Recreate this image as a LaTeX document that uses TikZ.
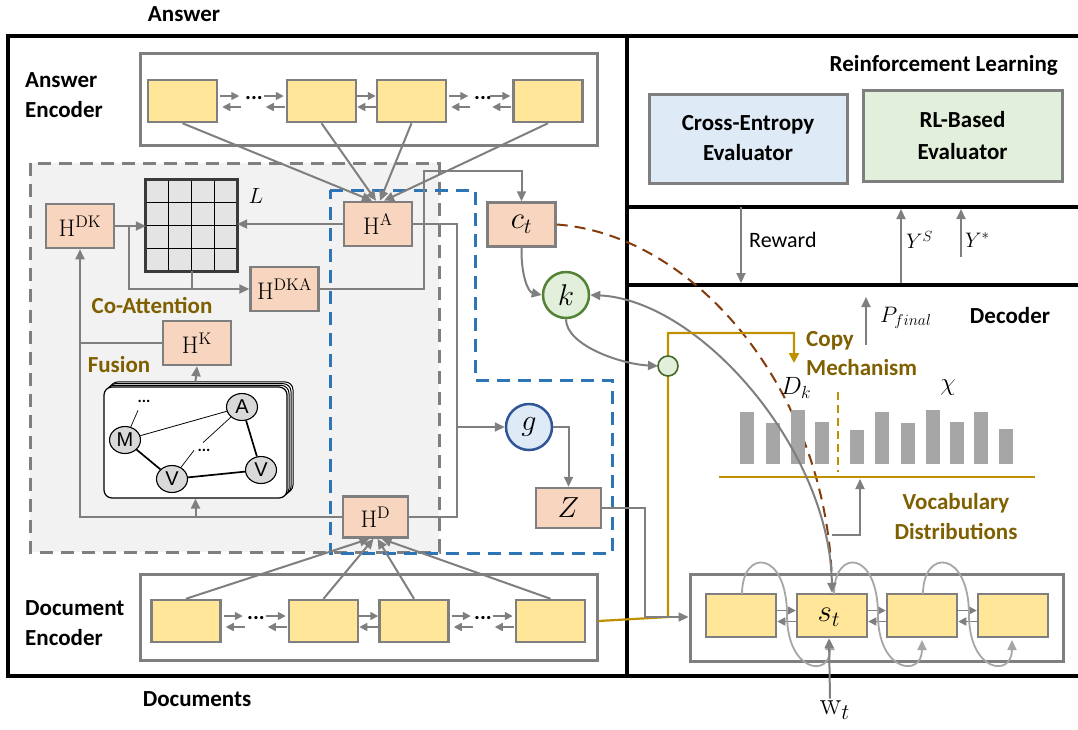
\RequirePackage{fix-cm}
\documentclass[tikz,border=0pt]{standalone}
\usepackage{graphicx}
\usepackage[no-math]{fontspec}
\setmainfont{Carlito}
\newfontfamily\arialf{Liberation Sans}
\usetikzlibrary{arrows.meta,calc,shapes.geometric}
\definecolor{gcol}{HTML}{7F7F7F}
\definecolor{lgcol}{HTML}{A6A6A6}
\definecolor{cellc}{HTML}{FFE699}
\definecolor{salm}{HTML}{F7D5BE}
\definecolor{regfill}{HTML}{F2F2F2}
\definecolor{mfill}{HTML}{E4E4E4}
\definecolor{mdark}{HTML}{3A3A3A}
\definecolor{blueC}{HTML}{2E75B6}
\definecolor{goldC}{HTML}{BF9000}
\definecolor{oliveC}{HTML}{7F6000}
\definecolor{brownC}{HTML}{843C0C}
\definecolor{kfill}{HTML}{E2EFDA}
\definecolor{kdraw}{HTML}{548235}
\definecolor{gfill}{HTML}{DEEBF7}
\definecolor{gdraw}{HTML}{2F5597}
\definecolor{gnfill}{HTML}{D9D9D9}
\newcommand\mth[2]{\scalebox{#1}{$#2$}}
\newcommand\outarrs[2]{%
 \draw[sarr] ($([yshift=5pt]#1.east)+(2,0)$) -- ++(19,0);
 \draw[sarr] ($([yshift=-6pt]#1.east)+(23,0)$) -- ++(-19,0);}
\newcommand\inarrs[2]{%
 \draw[sarr] ($([yshift=5pt]#1.west)+(-22,0)$) -- ++(20,0);
 \draw[sarr] ($([yshift=-6pt]#1.west)+(-1,0)$) -- ++(-19,0);}
\newcommand\betarrs[2]{%
 \draw[sarr] ([yshift=5pt]#1.east) -- ([yshift=5pt]#2.west);
 \draw[sarr] ([yshift=-6pt]#2.west) -- ([yshift=-6pt]#1.east);}
\tikzset{
 lbl/.style={font=\bfseries\fontsize{23}{30}\selectfont, inner sep=0pt},
 olbl/.style={lbl, text=oliveC},
 encbox/.style={draw=gcol, line width=3pt, fill=white, inner sep=0pt},
 cell/.style={draw=gcol, line width=2.5pt, fill=cellc, minimum width=69pt, minimum height=42pt, inner sep=0pt},
 hbox/.style={draw=gcol, line width=2.5pt, fill=salm, minimum width=68pt, minimum height=44pt, inner sep=0pt, font=\fontsize{20}{24}\selectfont},
 ml/.style={inner sep=0pt, font=\fontsize{20}{24}\selectfont},
 gl/.style={draw=gcol, line width=2pt},
 arr/.style={gl, -{Triangle[length=10pt,width=9pt]}},
 sarr/.style={draw=gcol, line width=1.6pt, -{Triangle[length=8pt,width=8pt]}},
 loopa/.style={draw=lgcol, line width=1.8pt, -{Triangle[length=10pt,width=9pt]}},
 frame/.style={draw=black, line width=3.2pt},
 gn/.style={ellipse, draw=black, line width=1.1pt, fill=gnfill, minimum width=31pt, minimum height=27pt, inner sep=0pt, font=\arialf\fontsize{20}{20}\selectfont},
 dotsn/.style={inner sep=0pt, font=\bfseries\fontsize{22}{22}\selectfont},
 dashbox/.style={line width=3pt, dash pattern=on 13pt off 8pt},
}
\begin{document}
\begin{tikzpicture}[x=1pt,y=-1pt]
\useasboundingbox (0,0) rectangle (1078,729);
% frames
\draw[frame] (8,36) rectangle (627,676);
\draw[frame] (627,36) -- (1078,36);
\draw[frame] (627,207) -- (1078,207);
\draw[frame] (627,285) -- (1078,285);
\draw[frame] (627,676) -- (1078,676);
% regions
\fill[regfill] (30,163) rectangle (439,552);
\draw[gcol, dashbox] (30,163) rectangle (439,552);
\draw[blueC, dashbox] (330,190) -- (475,190) -- (475,380) -- (612,380) -- (612,553) -- (330,553) -- cycle;
% labels
\node[lbl] at (184,14) {Answer};
\node[lbl, align=left, anchor=west] at (25,95) {Answer\\Encoder};
\node[lbl, align=left, anchor=west] at (25,623) {Document\\Encoder};
\node[lbl] at (197,699) {Documents};
\node[olbl] at (152,305) {Co-Attention};
\node[olbl] at (119,365) {Fusion};
% answer encoder
\node[encbox, minimum width=457pt, minimum height=92pt] (AE) at (368.5,99) {};
\node[cell] (a1) at (182.5,101) {};
\node[cell] (a2) at (321.5,101) {};
\node[cell] (a3) at (411.5,101) {};
\node[cell] (a4) at (548,101) {};
\node[dotsn] (ad1) at (254,98) {...};
\node[dotsn] (ad2) at (483,98) {...};
\outarrs{a1}{}\inarrs{a2}{}\betarrs{a2}{a3}\outarrs{a3}{}\inarrs{a4}{}
% document encoder
\node[encbox, minimum width=457pt, minimum height=86pt] (DE) at (368.5,617) {};
\node[cell] (d1) at (186,621) {};
\node[cell] (d2) at (323.5,621) {};
\node[cell] (d3) at (414,621) {};
\node[cell] (d4) at (550.5,621) {};
\node[dotsn] (dd1) at (256,618) {...};
\node[dotsn] (dd2) at (483,618) {...};
\outarrs{d1}{}\inarrs{d2}{}\betarrs{d2}{d3}\outarrs{d3}{}\inarrs{d4}{}
% matrix L
\node[fill=mfill, minimum size=91pt, inner sep=0pt] (Lm) at (191.5,225.5) {};
\foreach \i in {1,2,3} {
 \draw[black, line width=1pt] ($(Lm.north west)+(\i*22.75,0)$) -- ($(Lm.south west)+(\i*22.75,0)$);
 \draw[black, line width=1pt] ($(Lm.north west)+(0,\i*22.75)$) -- ($(Lm.north east)+(0,\i*22.75)$);
}
\draw[mdark, line width=3pt] (Lm.north west) rectangle (Lm.south east);
\node[ml] (Llab) at (256,196) {\mth{1.1}{L}};
% H boxes
\node[hbox] (HDK) at (80,226) {\mth{1.2}{\mathrm{H}^{\mathrm{DK}}}};
\node[hbox] (HA) at (378,224) {\mth{1.2}{\mathrm{H}^{\mathrm{A}}}};
\node[hbox] (HDKA) at (284.5,289) {\mth{1.2}{\mathrm{H}^{\mathrm{DKA}}}};
\node[hbox] (HK) at (197,343) {\mth{1.2}{\mathrm{H}^{\mathrm{K}}}};
\node[hbox, minimum width=65pt, minimum height=41pt] (HD) at (375.5,517) {\mth{1.2}{\mathrm{H}^{\mathrm{D}}}};
\node[hbox] (ct) at (521.5,224.5) {\mth{1.55}{c_t}};
\node[hbox, minimum width=65pt, minimum height=40pt] (Z) at (568.5,508) {\mth{1.45}{Z}};
% graph
\foreach \d in {3,2,1}
 \draw[black, line width=1pt, fill=white, rounded corners=8pt] (104+2*\d,387-1.7*\d) rectangle (287+2*\d,498-1.7*\d);
\node[draw=black, line width=1.2pt, fill=white, rounded corners=8pt, minimum width=183pt, minimum height=111pt, inner sep=0pt] (G) at (195.5,442.5) {};
\node[gn] (gM) at (125,440) {M};
\node[gn] (gA) at (242,407) {A};
\node[gn] (gV1) at (172,479) {V};
\node[gn] (gV2) at (261,470) {V};
\node[dotsn, font=\bfseries\fontsize{16}{16}\selectfont] (gd1) at (144,401) {...};
\node[dotsn, font=\bfseries\fontsize{16}{16}\selectfont] (gd2) at (204,450) {...};
\draw[black, line width=0.8pt] (gM) -- (gA);
\draw[black, line width=1.7pt] (gM) -- (gV1);
\draw[black, line width=1.7pt] (gV1) -- (gV2);
\draw[black, line width=1.7pt] (gA) -- (gV2);
\draw[black, line width=0.7pt] (gA) -- ([xshift=-1pt,yshift=6pt]gd2.north);
\draw[black, line width=0.7pt] (gV1) -- ([xshift=-10pt,yshift=1pt]gd2.south);
\draw[black, line width=0.7pt] (gM) -- ([xshift=-6pt,yshift=-8pt]gd1.south);
% circles
\node[circle, draw=kdraw, line width=2.5pt, fill=kfill, minimum size=46pt, inner sep=0pt, font=\fontsize{20}{24}\selectfont] (k) at (566,295) {\mth{1.5}{k}};
\node[circle, draw=gdraw, line width=2.5pt, fill=gfill, minimum size=46pt, inner sep=0pt, font=\fontsize{20}{24}\selectfont] (g) at (529,427) {\mth{1.5}{g}};
% connectors left panel
\foreach \c/\dx in {a1/-6,a2/-2,a3/2,a4/6} \draw[arr] (\c.south) -- ([xshift=\dx pt]HA.north);
\foreach \c/\dx in {d1/-6,d2/-2,d3/2,d4/6} \draw[arr] (\c.north) -- ([xshift=\dx pt]HD.south);
\draw[arr] (HDK.east) -- (Lm.west |- HDK.east);
\draw[arr] ($(HDK.east)+(14,0)$) |- (HDKA.west);
\draw[gl] (Lm.south) -- (Lm.south |- HDKA.west);
\draw[arr] (HA.west) -- (Lm.east |- HA.west);
\coordinate (j1) at (424,171);
\draw[arr] (HDKA.east) -| (j1) -| (ct.north);
\coordinate (j2) at (457,224);
\draw[gl] (HA.east) -- (j2) |- (HD.east);
\draw[arr] (j2 |- g.west) -- (g.west);
\draw[arr] (HD.west) -| (HDK.south);
\draw[gl] (HK.west) -- (HDK.south |- HK.west);
\draw[arr] (G.south |- HD.west) -- (G.south);
\draw[arr] ([yshift=5pt]G.north) -- (HK.south);
\draw[arr] (g.east) -| (Z.north);
\draw[arr] (ct.south) .. controls (521,275) and (528,292) .. (k.west);
\draw[brownC, line width=2pt, dash pattern=on 11pt off 7pt] (ct.east) .. controls (700,235) and (832,400) .. (832,592);
% right panel top
\node[lbl, anchor=east] at (1058,65) {Reinforcement Learning};
\node[draw=gcol, line width=3pt, fill=gfill, minimum width=198pt, minimum height=89pt, align=center, font=\bfseries\fontsize{23}{30}\selectfont] (CE) at (748,138.5) {Cross-Entropy\\Evaluator};
\node[draw=gcol, line width=3pt, fill=kfill, minimum width=199pt, minimum height=91pt, align=center, font=\bfseries\fontsize{23}{32}\selectfont] (RL) at (962.5,136) {RL-Based\\Evaluator};
\coordinate (rw1) at (741,207); \coordinate (rw2) at (741,283);
\draw[arr] (rw1) -- (rw2);
\node[inner sep=0pt, anchor=west, font=\fontsize{22}{22}\selectfont] at (749,240) {Reward};
\coordinate (ys1) at (901,283); \coordinate (ys2) at (901,209);
\draw[arr] (ys1) -- (ys2);
\node[ml, anchor=west] at (906,240) {\mth{1.05}{Y^S}};
\coordinate (yt1) at (961,257); \coordinate (yt2) at (961,209);
\draw[arr] (yt1) -- (yt2);
\node[ml, anchor=west] at (965,240) {\mth{1.05}{Y^*}};
% decoder panel
\node[lbl] at (1010,316) {Decoder};
\coordinate (pf1) at (866,345); \coordinate (pf2) at (866,297);
\draw[arr] (pf1) -- (pf2);
\node[ml, anchor=west] at (880,318) {\mth{1.12}{P_{final}}};
\node[olbl, align=left, anchor=west, font=\bfseries\fontsize{23}{29}\selectfont] at (806,354) {Copy\\Mechanism};
\node[ml] at (796,388) {\mth{1.25}{D_k}};
\node[ml] at (948,388) {\mth{1.25}{\chi}};
\foreach \x/\t in {740/412,766/423,791/410,815/422,850/430,875/412,901/423,926/410,950/422,974/412,999/429}
 \fill[lgcol] (\x,\t) rectangle (\x+14,464);
\draw[goldC, line width=2pt, dash pattern=on 8pt off 5pt] (838,392) -- (838,472);
\draw[goldC, line width=2.2pt] (719,477) -- (1035,477);
\node[olbl, align=center] at (956,517) {Vocabulary\\Distributions};
% decoder cells
\node[encbox, minimum width=373pt, minimum height=87pt] (DB) at (876.5,617.5) {};
\node[cell, minimum width=70pt, minimum height=43pt] (e1) at (741,615.5) {};
\node[cell, minimum width=70pt, minimum height=43pt] (e2) at (832,615.5) {};
\node[cell, minimum width=70pt, minimum height=43pt] (e3) at (922,615.5) {};
\node[cell, minimum width=70pt, minimum height=43pt] (e4) at (1013,615.5) {};
\betarrs{e1}{e2}\betarrs{e2}{e3}\betarrs{e3}{e4}
\node[ml] (st) at (829,617) {\mth{1.55}{s_t}};
% loops
\draw[loopa] (742,594) .. controls (742,548) and (787,550) .. (787,615) .. controls (787,672) and (830,678) .. (830,640);
\draw[loopa] (834,594) .. controls (834,548) and (878,550) .. (878,615) .. controls (878,672) and (922,678) .. (922,640);
\draw[loopa] (923,594) .. controls (923,548) and (969,550) .. (969,615) .. controls (969,672) and (1012,678) .. (1012,640);
% w_t
\node[ml] (wt) at (835,710) {\mth{1.6}{\mathrm{w}_t}};
\draw[arr] ([yshift=2pt,xshift=-5pt]wt.north) -- ([xshift=-3pt]e2.south);
% k curves
\draw[gl, {Triangle[length=10pt,width=9pt]}-{Triangle[length=10pt,width=9pt]}] (k.east) .. controls (700,300) and (830,450) .. (e2.north);
\draw[arr] (k.south) .. controls (566,345) and (620,364) .. (658,366);
% vocab arrow
\coordinate (vb) at (832,535);
\draw[arr] (vb) -- (860,535) -- (860,479);
% gold line and Z line
\coordinate (cm) at (794,363);
\draw[goldC, line width=2.2pt, -{Triangle[length=10pt,width=10pt]}] (DE.east |- d4.east) -- (668,617) -- (668,333) -- (794,333) -- (cm);
\coordinate (j3) at (645,617);
\draw[arr] (Z.east) -| (j3) -- (DB.west |- j3);
\node[circle, draw=kdraw!80!black, line width=1.6pt, fill=kfill, minimum size=20pt, inner sep=0pt] (sc) at (668,366) {};
\end{tikzpicture}
\end{document}
